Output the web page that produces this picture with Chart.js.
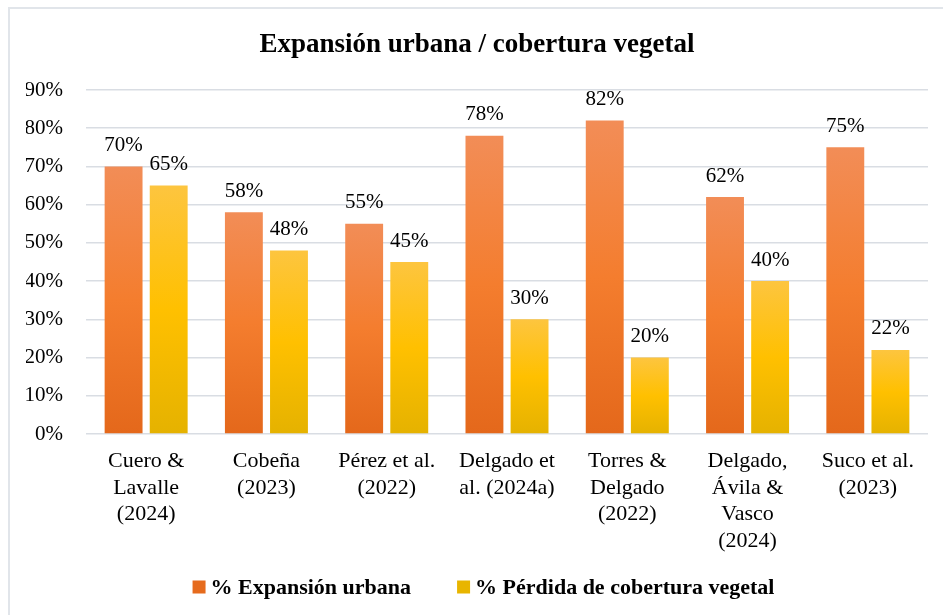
<!DOCTYPE html>
<html>
<head>
<meta charset="utf-8">
<script src="https://cdn.jsdelivr.net/npm/chart.js@4.4.1/dist/chart.umd.min.js"></script>
<style>
  html, body { margin: 0; padding: 0; background: #fff; }
  #wrap { position: relative; width: 943px; height: 615px; }
  #frame { position: absolute; left: 8px; top: 7px; width: 960px; height: 640px;
           border-left: 2px solid #E1E5EA; border-top: 2px solid #E1E5EA; pointer-events: none; }
  canvas { position: absolute; left: 0; top: 0; }
</style>
</head>
<body>
<div id="wrap">
  <canvas id="c" width="943" height="615"></canvas>
  <div id="frame"></div>
</div>
<script>
const categories = [
  ["Cuero &", "Lavalle", "(2024)"],
  ["Cobeña", "(2023)"],
  ["Pérez et al.", "(2022)"],
  ["Delgado et", "al. (2024a)"],
  ["Torres &", "Delgado", "(2022)"],
  ["Delgado,", "Ávila &", "Vasco", "(2024)"],
  ["Suco et al.", "(2023)"]
];
const expansionUrbana = [70, 58, 55, 78, 82, 62, 75];
const perdidaCobertura = [65, 48, 45, 30, 20, 40, 22];
const seriesNames = ["% Expansión urbana", "% Pérdida de cobertura vegetal"];
const legendColors = ['#E66B1D', '#E8B500'];
const yTickStep = 10;
const yMax = 90;
const chartTitle = "Expansión urbana / cobertura vegetal";

const SERIF = "'Liberation Serif', 'Times New Roman', serif";

function barGradient(stops) {
  return function (context) {
    const chart = context.chart;
    if (!chart.chartArea || context.type !== 'data') return stops[1][1];
    const yScale = chart.scales.y;
    const top = yScale.getPixelForValue(context.raw);
    const bottom = yScale.getPixelForValue(0);
    if (!isFinite(top) || !isFinite(bottom) || top === bottom) return stops[1][1];
    const g = chart.ctx.createLinearGradient(0, top, 0, bottom);
    stops.forEach(s => g.addColorStop(s[0], s[1]));
    return g;
  };
}

const orangeStops = [[0, '#F28D57'], [0.5, '#F47D2E'], [1, '#E4681B']];
const yellowStops = [[0, '#FDC53F'], [0.5, '#FFC000'], [1, '#E5B200']];

const valueLabels = {
  id: 'valueLabels',
  afterDatasetsDraw(chart) {
    const ctx = chart.ctx;
    ctx.save();
    ctx.font = "21px " + SERIF;
    ctx.fillStyle = '#000';
    ctx.textAlign = 'center';
    ctx.textBaseline = 'middle';
    chart.data.datasets.forEach((ds, di) => {
      const meta = chart.getDatasetMeta(di);
      meta.data.forEach((bar, i) => {
        ctx.fillText(ds.data[i] + '%', bar.x, bar.y - 21);
      });
    });
    ctx.restore();
  }
};

const bottomLegend = {
  id: 'bottomLegend',
  afterDraw(chart) {
    const ctx = chart.ctx;
    ctx.save();
    ctx.font = "bold 22px " + SERIF;
    ctx.textBaseline = 'middle';
    ctx.textAlign = 'left';
    const box = 13, gapText = 5, gapItem = 46;
    const items = chart.data.datasets.map((ds, i) => ({
      text: ds.label, color: legendColors[i], w: ctx.measureText(ds.label).width
    }));
    let total = 0;
    items.forEach((it, i) => { total += box + gapText + it.w + (i ? gapItem : 0); });
    const cy = chart.chartArea.bottom + 153;
    let x = chart.width / 2 + 12 - total / 2;
    items.forEach((it, i) => {
      if (i) x += gapItem;
      ctx.fillStyle = it.color;
      ctx.fillRect(x, cy - box / 2, box, box);
      x += box + gapText;
      ctx.fillStyle = '#000';
      ctx.fillText(it.text, x, cy + 1);
      x += it.w;
    });
    ctx.restore();
  }
};

new Chart(document.getElementById('c'), {
  type: 'bar',
  data: {
    labels: categories,
    datasets: [
      { label: seriesNames[0], data: expansionUrbana, backgroundColor: barGradient(orangeStops),
        categoryPercentage: 0.75, barPercentage: 0.84 },
      { label: seriesNames[1], data: perdidaCobertura, backgroundColor: barGradient(yellowStops),
        categoryPercentage: 0.75, barPercentage: 0.84 }
    ]
  },
  options: {
    responsive: false,
    animation: false,
    devicePixelRatio: 1,
    layout: { padding: { left: 26, right: 15, top: 0, bottom: 59 } },
    plugins: {
      tooltip: { enabled: false },
      legend: { display: false },
      title: {
        display: true, text: chartTitle, color: '#000',
        font: { family: SERIF, size: 27, weight: 'bold', lineHeight: 1.2 },
        padding: { top: 29, bottom: 28.6 }
      }
    },
    scales: {
      x: {
        grid: { display: false, drawTicks: false },
        border: { display: false },
        ticks: {
          color: '#000', padding: 14, maxRotation: 0, autoSkip: false,
          font: { family: SERIF, size: 22, lineHeight: 1.21 }
        },
        afterFit(scale) { scale.height = 122; }
      },
      y: {
        min: 0, max: yMax,
        grid: { color: '#D9DDE3', lineWidth: 1.5, drawTicks: false },
        border: { display: false },
        ticks: {
          stepSize: yTickStep, color: '#000', padding: 23,
          font: { family: SERIF, size: 21 },
          callback: v => v + '%'
        },
        afterFit(scale) { scale.width = 60; }
      }
    }
  },
  plugins: [valueLabels, bottomLegend]
});
</script>
</body>
</html>
